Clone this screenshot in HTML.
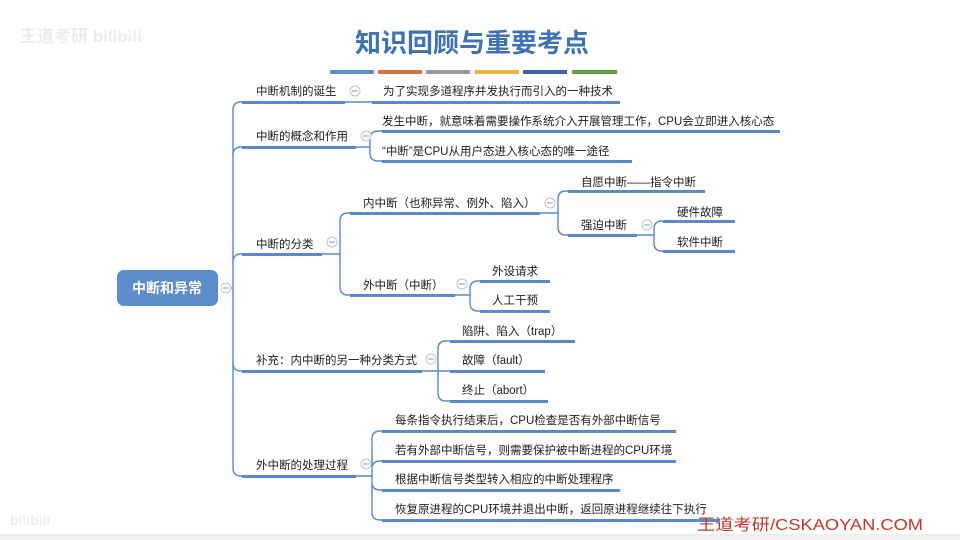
<!DOCTYPE html>
<html><head><meta charset="utf-8"><style>
html,body{margin:0;padding:0;background:#fff;}
svg{display:block;}
text{font-family:"Liberation Sans","Noto Sans CJK SC",sans-serif;font-size:11.5px;fill:#222;}
</style></head><body>
<svg width="960" height="540" viewBox="0 0 960 540" xmlns="http://www.w3.org/2000/svg">
<rect width="960" height="540" fill="#fff"/>
<rect y="534" width="960" height="6" fill="#f0f0f0"/>
<text x="20" y="42" style="font-size:17px;fill:#ececec;font-weight:bold">王道考研 bilibili</text>
<text x="10" y="525" style="font-size:14px;fill:#eeeeee;font-weight:bold">bilibili</text>
<text x="472" y="52" text-anchor="middle" style="font-size:26px;fill:#3f72b5;font-weight:bold">知识回顾与重要考点</text>
<g>
<rect x="330" y="70" width="44" height="4" fill="#5b8fcc"/>
<rect x="378" y="70" width="44" height="4" fill="#d9743f"/>
<rect x="426" y="70" width="44" height="4" fill="#9a9a9a"/>
<rect x="475" y="70" width="44" height="4" fill="#f0b43c"/>
<rect x="523" y="70" width="44" height="4" fill="#3f63a8"/>
<rect x="572" y="70" width="45" height="4" fill="#6c9a44"/>
</g>
<g fill="none" stroke="#5b8acb" stroke-width="1.4">
<path d="M226 288 H233 M233 288 V110 Q233 102 241 102 H242"/>
<path d="M233 155 Q233 147 241 147 H242"/>
<path d="M233 262 Q233 254 241 254 H242"/>
<path d="M233 288 V468 Q233 476 241 476 H242"/>
<path d="M233 363 Q233 371 241 371 H242"/>
<path d="M345 102 H372"/>
<path d="M356 147 H370 V139 Q370 131 378 131 H382 M370 147 V153 Q370 161 378 161 H382"/>
<path d="M322 254 H340 V221 Q340 213 348 213 H350 M340 254 V287 Q340 295 348 295 H350"/>
<path d="M540 213 H558 V199 Q558 191 566 191 H568 M558 213 V227 Q558 235 566 235 H568"/>
<path d="M637 235 H654 V229 Q654 221 662 221 H663 M654 235 V243 Q654 251 662 251 H663"/>
<path d="M455 295 H470 V289 Q470 281 478 281 H480 M470 295 V303 Q470 311 478 311 H480"/>
<path d="M422 371 H438 V349 Q438 341 446 341 H450 M438 371 H450 M438 371 V393 Q438 401 446 401 H450"/>
<path d="M356 476 H372 V439 Q372 431 380 431 H382 M372 476 V482 Q372 490 380 490 H382 M372 476 V512 Q372 520 380 520 H382 M372 469 Q372 461 380 461 H382"/>
</g>
<g fill="#5b8acb">
<rect x="242" y="101" width="103" height="3"/>
<rect x="372" y="101" width="248" height="3"/>
<rect x="242" y="146" width="114" height="3"/>
<rect x="382" y="130" width="398" height="3"/>
<rect x="382" y="160" width="250" height="3"/>
<rect x="242" y="253" width="80" height="3"/>
<rect x="350" y="212" width="190" height="3"/>
<rect x="568" y="190" width="137" height="3"/>
<rect x="568" y="234" width="69" height="3"/>
<rect x="663" y="220" width="72" height="3"/>
<rect x="663" y="250" width="72" height="3"/>
<rect x="350" y="294" width="105" height="3"/>
<rect x="480" y="280" width="70" height="3"/>
<rect x="480" y="310" width="70" height="3"/>
<rect x="242" y="370" width="180" height="3"/>
<rect x="450" y="340" width="125" height="3"/>
<rect x="450" y="370" width="95" height="3"/>
<rect x="450" y="400" width="98" height="3"/>
<rect x="242" y="475" width="114" height="3"/>
<rect x="382" y="430" width="294" height="3"/>
<rect x="382" y="460" width="294" height="3"/>
<rect x="382" y="489" width="238" height="3"/>
<rect x="382" y="519" width="338" height="3"/>
</g>
<g fill="#fff" stroke="#b8c4d6" stroke-width="1">
<circle cx="226" cy="288" r="5"/><circle cx="355" cy="91" r="5"/><circle cx="366" cy="136" r="5"/>
<circle cx="332" cy="242" r="5"/><circle cx="550" cy="203" r="5"/><circle cx="647" cy="225" r="5"/>
<circle cx="462" cy="284" r="5"/><circle cx="431" cy="359" r="5"/><circle cx="366" cy="464" r="5"/>
</g>
<g stroke="#8a9ab0" stroke-width="1">
<path d="M223 288h6M352 91h6M363 136h6M329 242h6M547 203h6M644 225h6M459 284h6M428 359h6M363 464h6"/>
</g>
<rect x="117" y="270" width="101" height="36" rx="7" fill="#5b8ccc"/>
<text x="167" y="293" text-anchor="middle" style="font-size:14px;fill:#fff;font-weight:bold">中断和异常</text>
<text x="256" y="95">中断机制的诞生</text>
<text x="383" y="95">为了实现多道程序并发执行而引入的一种技术</text>
<text x="256" y="140">中断的概念和作用</text>
<text x="382" y="125">发生中断，就意味着需要操作系统介入开展管理工作，CPU会立即进入核心态</text>
<text x="382" y="155">“中断”是CPU从用户态进入核心态的唯一途径</text>
<text x="256" y="248">中断的分类</text>
<text x="363" y="207">内中断（也称异常、例外、陷入）</text>
<text x="581" y="186">自愿中断——指令中断</text>
<text x="581" y="229">强迫中断</text>
<text x="677" y="216">硬件故障</text>
<text x="677" y="246">软件中断</text>
<text x="363" y="289">外中断（中断）</text>
<text x="492" y="275">外设请求</text>
<text x="492" y="304">人工干预</text>
<text x="256" y="364">补充：内中断的另一种分类方式</text>
<text x="462" y="335">陷阱、陷入（trap）</text>
<text x="462" y="364">故障（fault）</text>
<text x="462" y="394">终止（abort）</text>
<text x="256" y="469">外中断的处理过程</text>
<text x="395" y="424">每条指令执行结束后，CPU检查是否有外部中断信号</text>
<text x="395" y="454">若有外部中断信号，则需要保护被中断进程的CPU环境</text>
<text x="395" y="483">根据中断信号类型转入相应的中断处理程序</text>
<text x="395" y="513">恢复原进程的CPU环境并退出中断，返回原进程继续往下执行</text>
<text x="697" y="530" textLength="226" lengthAdjust="spacingAndGlyphs" style="font-size:16px;fill:#c0392b">王道考研/CSKAOYAN.COM</text>
</svg>
</body></html>
